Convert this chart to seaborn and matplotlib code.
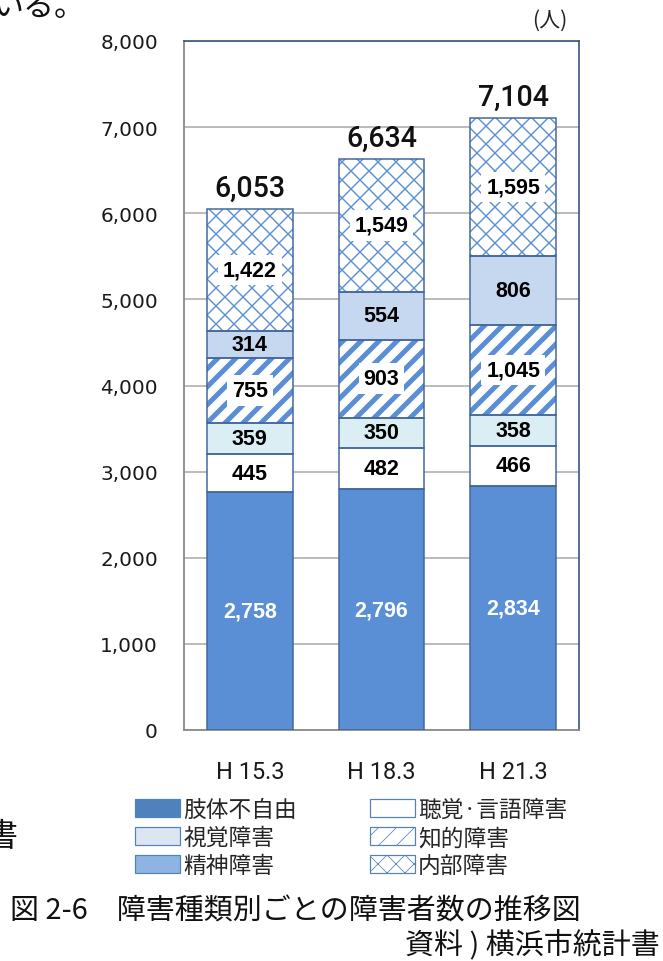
import matplotlib
matplotlib.use("Agg")
import matplotlib.pyplot as plt
from matplotlib.patches import Patch, Rectangle
from matplotlib.ticker import FuncFormatter
import seaborn as sns

# ---- data -------------------------------------------------------------
periods = ["H 15.3", "H 18.3", "H 21.3"]
categories = ["肢体不自由", "聴覚·言語障害", "視覚障害", "知的障害", "精神障害", "内部障害"]
physical = [2758, 2796, 2834]
hearing = [445, 482, 466]
visual = [359, 350, 358]
intellectual = [755, 903, 1045]
mental = [314, 554, 806]
internal = [1422, 1549, 1595]
totals = [6053, 6634, 7104]
y_ticks = [0, 1000, 2000, 3000, 4000, 5000, 6000, 7000, 8000]

series = [physical, hearing, visual, intellectual, mental, internal]

# ---- sizing helpers (work in pixels) ------------------------------------
DPI = 54
W, H = 663, 962


def pt(px):
    """Convert a pixel size to points at the figure dpi."""
    return px * 72.0 / DPI


# ---- styles -----------------------------------------------------------
BLUE = "#5a8fd6"
EDGE = "#41679c"
styles = {
    "肢体不自由": dict(face=BLUE, hatch=None, hlw=None, text="white", box=False),
    "聴覚·言語障害": dict(face="white", hatch=None, hlw=None, text="black", box=False),
    "視覚障害": dict(face="#dbeef4", hatch=None, hlw=None, text="black", box=False),
    "知的障害": dict(face="white", hatch="/", hlw=pt(5.0), text="black", box=True),
    "精神障害": dict(face="#c6d8f0", hatch=None, hlw=None, text="black", box=False),
    "内部障害": dict(face="white", hatch="x", hlw=pt(1.4), text="black", box=True),
}
legend_styles = {
    "肢体不自由": dict(face="#4f81bd", hatch=None, hlw=None),
    "聴覚·言語障害": dict(face="white", hatch=None, hlw=None),
    "視覚障害": dict(face="#dce6f2", hatch=None, hlw=None),
    "知的障害": dict(face="white", hatch="/", hlw=pt(4.5)),
    "精神障害": dict(face="#8eb4e3", hatch=None, hlw=None),
    "内部障害": dict(face="white", hatch="x", hlw=pt(1.3)),
}

CJK = ["Noto Sans CJK JP", "DejaVu Sans"]
sns.set_style("white")
plt.rcParams["font.family"] = CJK

fig = plt.figure(figsize=(W / DPI, H / DPI), dpi=DPI)
ax = fig.add_axes([184 / W, 1 - 731 / H, (579 - 184) / W, (731 - 42) / H])

bottom = [0, 0, 0]
for name, vals in zip(categories, series):
    st = styles[name]
    n_before = len(ax.patches)
    kws = dict(x=periods, y=vals, ax=ax, color=st["face"], saturation=1,
               errorbar=None, width=0.653, bottom=bottom, linewidth=0,
               zorder=2)
    if st["hatch"]:
        kws.update(hatch=st["hatch"], edgecolor=BLUE)
        with plt.rc_context({"hatch.linewidth": st["hlw"]}):
            sns.barplot(**kws)
    else:
        kws.update(edgecolor=st["face"])
        sns.barplot(**kws)
    layer = ax.patches[n_before:]
    for p in layer:
        if st["hatch"] and hasattr(p, "set_hatch_linewidth"):
            p.set_hatch_linewidth(st["hlw"])
        ax.add_patch(Rectangle(p.get_xy(), p.get_width(), p.get_height(),
                               fill=False, edgecolor=EDGE, linewidth=pt(1.5),
                               zorder=3))
    for i, v in enumerate(vals):
        bbox = dict(boxstyle="square,pad=0.22", fc="white", ec="none") if st["box"] else None
        ax.text(i, bottom[i] + v / 2, f"{v:,}", ha="center", va="center",
                fontsize=pt(21.5), fontweight="bold", family="Liberation Sans",
                color=st["text"], bbox=bbox, zorder=5)
    bottom = [b + v for b, v in zip(bottom, vals)]

for i, t in enumerate(totals):
    ax.annotate(f"{t:,}", (i, t), xytext=(0, pt(7)), textcoords="offset points",
                ha="center", va="bottom", fontsize=pt(28.5), family="Roboto",
                fontweight="medium", color="#111111")

ax.set_xlim(-0.5, 2.5)
ax.set_ylim(0, 8000)
ax.set_yticks(y_ticks)
ax.yaxis.set_major_formatter(FuncFormatter(lambda v, _: f"{int(v):,}"))
ax.set_xlabel("")
ax.set_ylabel("")
ax.yaxis.grid(True, color="#a6a6a6", linewidth=pt(1.5))
ax.xaxis.grid(False)
ax.set_axisbelow(True)
ax.tick_params(axis="both", length=0)
ax.tick_params(axis="y", pad=pt(26), labelsize=pt(20), labelcolor="#1a1a1a")
ax.tick_params(axis="x", pad=pt(30), labelsize=pt(23.5), labelcolor="#1a1a1a")
for lab in ax.get_yticklabels():
    lab.set_family("DejaVu Sans")
for lab in ax.get_xticklabels():
    lab.set_family("Roboto")
for side in ("left", "bottom"):
    ax.spines[side].set_color("#8a8a8a")
    ax.spines[side].set_linewidth(pt(1.8))
for side in ("top", "right"):
    ax.spines[side].set_color("#2f4f7a")
    ax.spines[side].set_linewidth(pt(1.6))

fig.text(567 / W, 1 - 21 / H, "(人)", ha="right", va="center", fontsize=pt(21),
         family=CJK, color="#222222")

# ---- legend -----------------------------------------------------------
order = ["肢体不自由", "視覚障害", "精神障害", "聴覚·言語障害", "知的障害", "内部障害"]
handles = []
for name in order:
    ls = legend_styles[name]
    h = Patch(facecolor=ls["face"], edgecolor="#4f81bd", linewidth=pt(1.2),
              hatch=ls["hatch"], label=name)
    if ls["hatch"] and hasattr(h, "set_hatch_linewidth"):
        h.set_hatch_linewidth(ls["hlw"])
    handles.append(h)
leg = fig.legend(handles=handles, ncol=2, loc="upper left",
                 bbox_to_anchor=(135 / W, 1 - 799 / H), frameon=False,
                 fontsize=pt(22.7), handlelength=2.0, handleheight=0.88,
                 handletextpad=0.13, labelspacing=0.22, columnspacing=3.2,
                 borderaxespad=0, borderpad=0)

# ---- caption and surrounding text --------------------------------------
fig.text(10 / W, 1 - 912 / H, "図 2-6　障害種類別ごとの障害者数の推移図",
         ha="left", va="center", fontsize=pt(29), family=CJK, color="#111111")
fig.text(660 / W, 1 - 946 / H, "資料 ) 横浜市統計書", ha="right", va="center",
         fontsize=pt(29), family=CJK, color="#111111")
fig.text(-8 / W, 1 - 16 / H, "いる。", ha="left", va="baseline",
         fontsize=pt(31), family=CJK, color="#111111")
fig.text(-15 / W, 1 - 837 / H, "書", ha="left", va="center",
         fontsize=pt(32), family=CJK, color="#111111")

fig.savefig("out.png", dpi=DPI)
